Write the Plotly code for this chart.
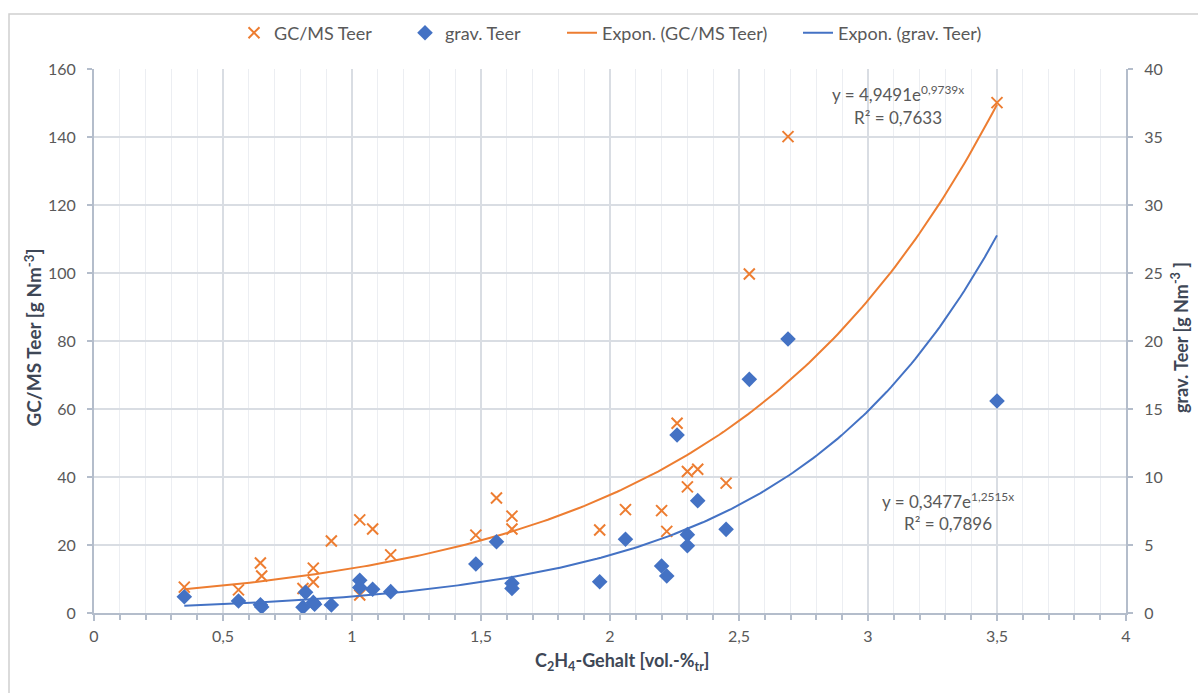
import numpy as np
import plotly.graph_objects as go

# C2H4 content [vol.-%tr] and GC/MS tar [g Nm^-3]
gcms_x = [0.35, 0.56, 0.645, 0.65, 0.81, 0.85, 0.85, 0.92, 1.03, 1.03, 1.08, 1.15,
          1.48, 1.56, 1.62, 1.62, 1.96, 2.06, 2.20, 2.22, 2.26, 2.30, 2.34, 2.30,
          2.45, 2.54, 2.69, 3.50]
gcms_y = [7.6, 6.8, 14.7, 10.9, 7.2, 13.2, 9.1, 21.2, 27.4, 5.3, 24.7, 17.1,
          22.9, 33.8, 28.5, 24.7, 24.4, 30.4, 30.1, 24.0, 55.8, 41.6, 42.3, 37.1,
          38.2, 99.7, 140.1, 150.1]

# C2H4 content [vol.-%tr] and gravimetric tar [g Nm^-3]
grav_x = [0.35, 0.56, 0.645, 0.65, 0.81, 0.82, 0.85, 0.855, 0.92, 1.03, 1.03, 1.08,
          1.15, 1.48, 1.56, 1.62, 1.62, 1.96, 2.06, 2.20, 2.22, 2.26, 2.30, 2.30,
          2.34, 2.45, 2.54, 2.69, 3.50]
grav_y = [1.2, 0.88, 0.6, 0.45, 0.42, 1.52, 0.78, 0.64, 0.59, 2.4, 1.88, 1.75,
          1.57, 3.6, 5.24, 2.18, 1.81, 2.3, 5.42, 3.46, 2.72, 13.09, 5.76, 4.95,
          8.26, 6.15, 17.18, 20.15, 15.59]

# Exponential trend lines y = a * exp(b * x)
gcms_a, gcms_b, gcms_r2 = 4.9491, 0.9739, 0.7633
grav_a, grav_b, grav_r2 = 0.3477, 1.2515, 0.7896
trend_x = np.linspace(0.35, 3.5, 200)

x_ticks = [0, 0.5, 1, 1.5, 2, 2.5, 3, 3.5, 4]
x_ticktext = ["0", "0,5", "1", "1,5", "2", "2,5", "3", "3,5", "4"]

ORANGE = "#ED7D31"
BLUE = "#4472C4"
TICK_COL = "#595959"
TITLE_COL = "#3E4756"
AXIS_COL = "#B4BDCB"
GRID_MAJOR = "#D9DDE3"
GRID_MINOR = "#ECEEF2"
FONT = "Lato"

L, R, T, B = 94, 1126, 69, 613
W, H = R - L, B - T

fig = go.Figure()
fig.add_trace(go.Scatter(
    x=gcms_x, y=gcms_y, mode="markers", name="GC/MS Teer", legend="legend",
    marker=dict(symbol="x-thin-open", size=11, color=ORANGE,
                line=dict(color=ORANGE, width=2)),
))
fig.add_trace(go.Scatter(
    x=grav_x, y=grav_y, mode="markers", name="grav. Teer", yaxis="y2",
    legend="legend2",
    marker=dict(symbol="diamond", size=12, color=BLUE, line=dict(width=0)),
))
fig.add_trace(go.Scatter(
    x=trend_x, y=gcms_a * np.exp(gcms_b * trend_x), mode="lines",
    name="Expon. (GC/MS Teer)", legend="legend3", line=dict(color=ORANGE, width=2),
))
fig.add_trace(go.Scatter(
    x=trend_x, y=grav_a * np.exp(grav_b * trend_x), mode="lines",
    name="Expon. (grav. Teer)", yaxis="y2", legend="legend4",
    line=dict(color=BLUE, width=2),
))

def fmt(v, n):
    return f"{v:.{n}f}".replace(".", ",")

annotations = [
    dict(x=898, y=94, text=f"y = {fmt(gcms_a, 4)}e<sup>{fmt(gcms_b, 4)}x</sup>"),
    dict(x=898, y=117, text=f"R² = {fmt(gcms_r2, 4)}"),
    dict(x=948, y=500, text=f"y = {fmt(grav_a, 4)}e<sup>{fmt(grav_b, 4)}x</sup>"),
    dict(x=948, y=523, text=f"R² = {fmt(grav_r2, 4)}"),
]
anns = []
for a in annotations:
    anns.append(dict(
        x=(a["x"] - L) / W, y=(B - a["y"]) / H, xref="paper", yref="paper",
        text=a["text"], showarrow=False, xanchor="center", yanchor="middle",
        font=dict(family=FONT, size=17, color=TICK_COL),
    ))
# axis titles
anns.append(dict(
    x=(18 - L) / W, y=(B - 338) / H, xref="paper", yref="paper", textangle=-90,
    text="<b>GC/MS Teer [g Nm<sup>-3</sup>]</b>", showarrow=False,
    font=dict(family=FONT, size=19, color=TITLE_COL),
))
anns.append(dict(
    x=(1194 - L) / W, y=(B - 338) / H, xref="paper", yref="paper", textangle=-90,
    text="<b>grav. Teer [g Nm<sup>-3</sup> ]</b>", showarrow=False,
    font=dict(family=FONT, size=18, color=TITLE_COL),
))
anns.append(dict(
    x=(622 - L) / W, y=(B - 676) / H, xref="paper", yref="paper",
    text="<b>C<sub>2</sub>H<sub>4</sub>-Gehalt [vol.-%<sub>tr</sub>]</b>",
    showarrow=False, font=dict(family=FONT, size=18, color=TITLE_COL),
))

def legend_at(px_left):
    return dict(orientation="h", x=(px_left - L) / W, xanchor="left",
                y=(B - 33) / H, yanchor="middle", itemwidth=30,
                font=dict(family=FONT, size=18, color=TICK_COL),
                bgcolor="rgba(0,0,0,0)")

fig.update_layout(
    width=1198, height=693,
    margin=dict(l=L, r=1198 - R, t=T, b=693 - B),
    paper_bgcolor="white", plot_bgcolor="white",
    font=dict(family=FONT, size=16, color=TICK_COL),
    showlegend=True,
    legend=legend_at(234),
    legend2=legend_at(405),
    legend3=legend_at(562),
    legend4=legend_at(798),
    xaxis=dict(
        range=[0, 4], tickmode="array", tickvals=x_ticks, ticktext=x_ticktext,
        showgrid=True, gridcolor=GRID_MAJOR, gridwidth=1.5,
        showline=True, linecolor=AXIS_COL, linewidth=2,
        ticks="outside", ticklen=6, tickcolor=AXIS_COL, tickwidth=1.5,
        minor=dict(dtick=0.1, showgrid=True, gridcolor=GRID_MINOR, gridwidth=1,
                   ticks="outside", ticklen=5, tickcolor=AXIS_COL),
        zeroline=False, tickfont=dict(size=16, color=TICK_COL),
        ticklabelstandoff=2,
    ),
    yaxis=dict(
        range=[0, 160], dtick=20, showgrid=True, gridcolor=GRID_MAJOR, gridwidth=1.5,
        showline=True, linecolor=AXIS_COL, linewidth=2,
        ticks="outside", ticklen=5, tickcolor=AXIS_COL, tickwidth=1.5,
        zeroline=False, tickfont=dict(size=16, color=TICK_COL),
        ticklabelstandoff=8,
    ),
    yaxis2=dict(
        range=[0, 40], dtick=5, overlaying="y", side="right", showgrid=False,
        showline=True, linecolor=AXIS_COL, linewidth=2,
        ticks="outside", ticklen=5, tickcolor=AXIS_COL, tickwidth=1.5,
        zeroline=False, tickfont=dict(size=16, color=TICK_COL),
        ticklabelstandoff=8,
    ),
    annotations=anns,
    shapes=[dict(type="rect", xref="paper", yref="paper",
                 x0=(9 - L) / W, x1=(1210 - L) / W, y0=(B - 705) / H, y1=(B - 14) / H,
                 line=dict(color="#D0D0D0", width=1.5), layer="below")],
)

fig.write_html("out.html")
